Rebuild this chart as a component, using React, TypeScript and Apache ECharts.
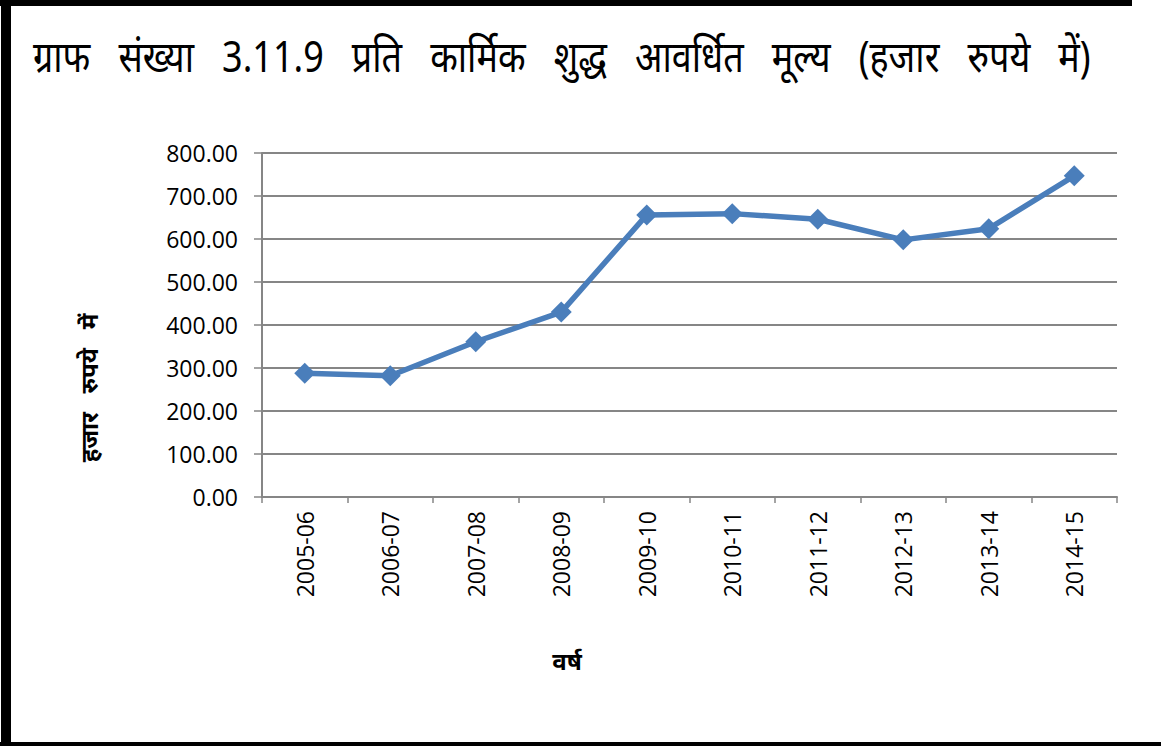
import React, { useEffect, useRef } from "react";
import * as echarts from "echarts";

const titleWords = ["ग्राफ", "संख्या", "3.11.9", "प्रति", "कार्मिक", "शुद्ध", "आवर्धित", "मूल्य", "(हजार", "रुपये", "में)"];
const yAxisTitleWords = ["हजार", "रुपये", "में"];
const xAxisTitle = "वर्ष";
const categories = ["2005-06", "2006-07", "2007-08", "2008-09", "2009-10", "2010-11", "2011-12", "2012-13", "2013-14", "2014-15"];
const values = [288, 282, 361, 430, 656, 659, 646, 598, 624, 747];
const yTicks = [0, 100, 200, 300, 400, 500, 600, 700, 800];

export default function App() {
  const ref = useRef<HTMLDivElement>(null);
  useEffect(() => {
    if (!ref.current) return;
    const chart = echarts.init(ref.current, null, { renderer: "svg" });
    const labelFont = "'Open Sans', Calibri, sans-serif";
    const gap = "\u00a0\u00a0\u00a0";
    chart.setOption({
      animation: false,
      backgroundColor: "#ffffff",
      grid: { left: 262, top: 153, right: 44, bottom: 249, containLabel: false },
      xAxis: {
        type: "category",
        data: categories,
        boundaryGap: true,
        axisLine: { lineStyle: { color: "#868686", width: 2 } },
        axisTick: { show: true, length: 6, lineStyle: { color: "#868686", width: 1.5 } },
        axisLabel: { rotate: 90, margin: 14, color: "#000", fontSize: 23, fontFamily: labelFont },
        splitLine: { show: false },
      },
      yAxis: {
        type: "value",
        min: yTicks[0],
        max: yTicks[yTicks.length - 1],
        interval: 100,
        axisLine: { show: true, lineStyle: { color: "#868686", width: 2 } },
        axisTick: { show: true, length: 8, lineStyle: { color: "#868686", width: 1.5 } },
        axisLabel: {
          margin: 24,
          color: "#000",
          fontSize: 23,
          fontFamily: labelFont,
          formatter: (v: number) => v.toFixed(2),
        },
        splitLine: { show: true, lineStyle: { color: "#868686", width: 2 } },
      },
      series: [
        {
          type: "line",
          data: values,
          symbol: "diamond",
          symbolSize: 21,
          itemStyle: { color: "#4a7ebb" },
          lineStyle: { color: "#4a7ebb", width: 5.5 },
        },
      ],
      graphic: [
        { type: "rect", shape: { x: 1, y: 0, width: 10, height: 746 }, style: { fill: "#000" }, z: 100 },
        { type: "rect", shape: { x: 0, y: 0, width: 1132, height: 6 }, style: { fill: "#000" }, z: 100 },
        { type: "rect", shape: { x: 0, y: 742, width: 1161, height: 4 }, style: { fill: "#000" }, z: 100 },
        {
          type: "text",
          x: 33,
          y: 55,
          scaleX: 1.0,
          scaleY: 1.2,
          style: {
            text: titleWords.join(gap),
            fill: "#000",
            font: "36px 'Noto Sans', sans-serif",
            textVerticalAlign: "middle",
          },
        },
        {
          type: "text",
          x: 88,
          y: 388,
          rotation: Math.PI / 2,
          style: {
            text: yAxisTitleWords.join("\u00a0\u00a0\u00a0"),
            fill: "#000",
            font: "italic bold 24px 'Noto Sans', sans-serif",
            textAlign: "center",
            textVerticalAlign: "middle",
          },
        },
        {
          type: "text",
          x: 567,
          y: 660,
          style: {
            text: xAxisTitle,
            fill: "#000",
            font: "italic bold 24px 'Noto Sans', sans-serif",
            textAlign: "center",
            textVerticalAlign: "middle",
          },
        },
      ],
    });
    return () => chart.dispose();
  }, []);
  return (
    <div
      ref={ref}
      style={{ position: "fixed", left: 0, top: 0, width: 1161, height: 746 }}
    />
  );
}
